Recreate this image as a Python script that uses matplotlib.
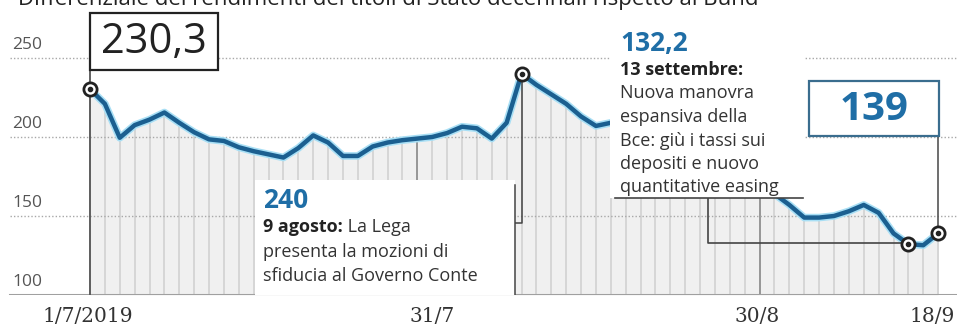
import matplotlib
matplotlib.use("Agg")
import matplotlib.pyplot as plt
from matplotlib.patches import Rectangle

plt.rcParams['font.family'] = ['Open Sans', 'DejaVu Sans']

# ------------ Data (spread BTP-Bund, trading days) -------------
spread = [230.3, 221, 199.5, 207.5, 211, 215.5, 209, 203, 198.5, 197.5,
          193.5, 191, 189, 187, 193, 201, 196.5, 188, 188, 194,
          196.5, 198, 199, 200, 202.5, 206.5, 205.5, 199, 209, 240,
          233, 227, 221, 213, 207, 209, 207, 206, 204, 200,
          199, 201, 196, 187, 178, 171, 164, 157, 149, 149,
          150, 153, 157, 152, 139, 132.2, 131.5, 139]
days = list(range(len(spread)))

tick_idx = [0, 22, 45, 57]
tick_labels = ["1/7/2019", "31/7", "30/8", "18/9"]
y_ticks = [100, 150, 200, 250]

i_start, i_peak, i_low, i_end = 0, 29, 55, 57

BLUE = "#1f6ea6"
LINE = "#1b5f90"

# ------------ pixel helpers (layout only) -------------
W, H = 957, 327
X0, DX = 90, 14.88           # pixel of first day, pixels per day
Y250, PPU = 58, 1.58          # pixel of 250, pixels per unit


def dx(px):
    return (px - X0) / DX


def dy(py):
    return 250 - (py - Y250) / PPU


def fx(px):
    return px / W


def fy(py):
    return 1 - py / H


fig = plt.figure(figsize=(W / 100, H / 100), dpi=100)
ax = fig.add_axes([0, 1 - 295 / H, 1, 295 / H])
ax.set_xlim(dx(0), dx(W))
ax.set_ylim(100, dy(0))
ax.axis("off")

# bars / area
ax.fill_between(days, 100, spread, color="#f0f0f0", lw=0, zorder=1)
ax.vlines(days, 100, spread, color="#d6d6d6", lw=1.4, zorder=1.5)
for i in tick_idx[1:3]:
    ax.vlines(i, 100, spread[i], color="#8c8c8c", lw=1.2, zorder=1.6)

# grid + baseline
for v in y_ticks[1:]:
    ax.axhline(v, xmin=10 / W, color="#a8a8a8", lw=1, ls=(0, (1, 1.5)), zorder=2)
    ax.text(dx(12), v + 3, str(v), fontsize=12.5, color="#555555", va="bottom", ha="left")
ax.axhline(100, xmin=10 / W, color="#a0a0a0", lw=2.2, zorder=2)
ax.text(dx(12), 103, "100", fontsize=12.5, color="#555555", va="bottom", ha="left")

# line with glow
ax.plot(days, spread, color="#a8dff5", lw=5.5, solid_joinstyle="round", zorder=3)
ax.plot(days, spread, color=LINE, lw=3.2, solid_joinstyle="round", zorder=4)

# x tick labels
tick_px = [88, 432, 757, 932]
for p, lab in zip(tick_px, tick_labels):
    fig.text(fx(p), fy(316), lab, family="DejaVu Serif", fontsize=14.5,
             color="#333333", ha="center", va="center")

# title (cut at top)
fig.text(fx(18), fy(5), "Differenziale dei rendimenti dei titoli di Stato decennali rispetto al Bund",
         fontsize=16, color="#222222", ha="left", va="baseline")

# ---- 230,3 box ----
ax.plot([i_start, i_start], [100, dy(70)], color="#555555", lw=1.3, zorder=2.5)
fig.patches.append(Rectangle((fx(90), fy(70)), (218 - 90) / W, (70 - 13) / H,
                             transform=fig.transFigure, facecolor="white",
                             edgecolor="#222222", lw=1.6, zorder=5))
fig.text(fx(154), fy(42), "230,3", fontsize=30, color="#222222",
         ha="center", va="center", zorder=6)

# ---- 240 annotation ----
ax.add_patch(Rectangle((dx(255), 99), dx(515) - dx(255), dy(180) - 99,
                       facecolor="white", edgecolor="none", zorder=5))
ax.plot([dx(515), dx(515)], [dy(295), dy(185)], color="#444444", lw=1.1, zorder=6)
ax.plot([i_peak, i_peak, dx(515)], [spread[i_peak], dy(223), dy(223)],
        color="#444444", lw=1.1, zorder=3.5)
ax.text(dx(263), dy(208), "240", fontsize=19, fontweight="bold", color=BLUE, zorder=7)
t1 = ax.text(dx(263), dy(232), "9 agosto:", fontsize=13, fontweight="bold",
             color="#222222", zorder=7)
ax.annotate(" La Lega", xy=(1, 0), xycoords=t1, va="bottom", ha="left",
            fontsize=13, color="#333333", zorder=7)
ax.text(dx(263), dy(257), "presenta la mozioni di", fontsize=13, color="#333333", zorder=7)
ax.text(dx(263), dy(281), "sfiducia al Governo Conte", fontsize=13, color="#333333", zorder=7)

# ---- 132,2 annotation ----
ax.add_patch(Rectangle((dx(610), dy(198)), dx(805) - dx(610), dy(26) - dy(198),
                       facecolor="white", edgecolor="none", zorder=5))
ax.plot([dx(615), dx(803)], [dy(198), dy(198)], color="#444444", lw=1.2, zorder=6)
ax.plot([dx(708), dx(708), i_low], [dy(198), dy(243), dy(243)],
        color="#444444", lw=1.2, zorder=3.5)
ax.text(dx(620), dy(51), "132,2", fontsize=19, fontweight="bold", color=BLUE, zorder=7)
ax.text(dx(620), dy(75), "13 settembre:", fontsize=13, fontweight="bold",
        color="#222222", zorder=7)
for k, line in enumerate(["Nuova manovra", "espansiva della", "Bce: giù i tassi sui",
                          "depositi e nuovo", "quantitative easing"]):
    ax.text(dx(620), dy(98.5 + 23.5 * k), line, fontsize=13, color="#333333", zorder=7)

# ---- 139 box ----
ax.plot([i_end, i_end], [spread[i_end], dy(136)], color="#555555", lw=1.2, zorder=3.5)
ax.add_patch(Rectangle((dx(809), dy(136)), dx(939) - dx(809), dy(81) - dy(136),
                       facecolor="white", edgecolor="#3a6d8e", lw=1.6, zorder=5))
ax.text(dx(874), dy(109), "139", fontsize=29, fontweight="bold", color=BLUE,
        ha="center", va="center", zorder=7)

# markers
for i in [i_start, i_peak, i_low, i_end]:
    ax.plot(i, spread[i], "o", ms=9.5, mfc="white", mec="#222222", mew=2, zorder=8)
    ax.plot(i, spread[i], "o", ms=3, color="#222222", zorder=9)

fig.savefig("out.png", dpi=100, facecolor="white")
